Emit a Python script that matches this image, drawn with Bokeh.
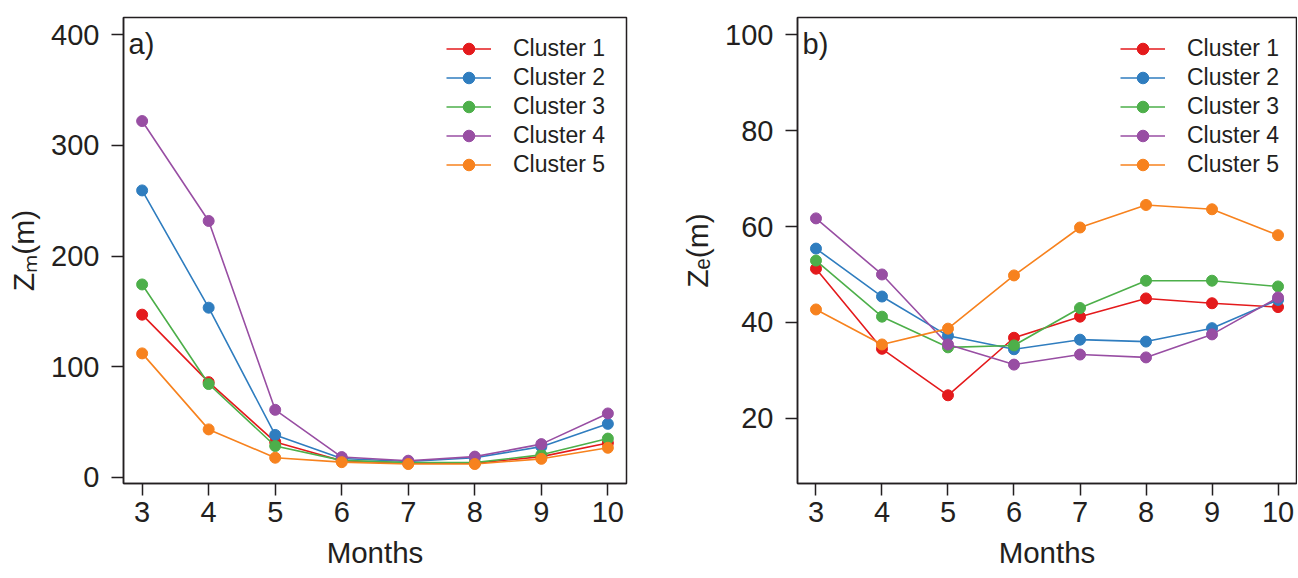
from bokeh.plotting import figure
from bokeh.models import Legend, Label, FixedTicker, Range1d
from bokeh.layouts import row
from bokeh.embed import file_html
from bokeh.resources import INLINE

# ---------------- data ----------------
months = [3, 4, 5, 6, 7, 8, 9, 10]
cluster_names = ["Cluster 1", "Cluster 2", "Cluster 3", "Cluster 4", "Cluster 5"]
cluster_colors = ["#E41A1C", "#2F7DBF", "#4DAF4A", "#984EA3", "#F7821E"]

# a) mixed layer depth Zm (m)
zm_c1 = [147, 86, 32, 15, 12.7, 12.7, 18.7, 31]
zm_c2 = [259.3, 153.3, 38.3, 17, 14.3, 17.7, 27.7, 48.3]
zm_c3 = [174.3, 84.3, 28.3, 15.3, 13.3, 13.3, 20.3, 35]
zm_c4 = [322, 231.7, 61, 18.3, 15, 18.7, 30, 57.7]
zm_c5 = [112, 43.3, 17.7, 13.7, 12, 12, 16.7, 26.7]

# b) euphotic depth Ze (m)
ze_c1 = [51.2, 34.5, 24.8, 36.8, 41.2, 45.0, 44.0, 43.2]
ze_c2 = [55.4, 45.4, 37.2, 34.4, 36.4, 36.0, 38.8, 44.7]
ze_c3 = [52.9, 41.2, 34.8, 35.2, 43.0, 48.7, 48.7, 47.5]
ze_c4 = [61.7, 50.0, 35.4, 31.2, 33.3, 32.7, 37.5, 45.2]
ze_c5 = [42.7, 35.4, 38.7, 49.8, 59.8, 64.5, 63.6, 58.2]

zm_ticks = [0, 100, 200, 300, 400]
ze_ticks = [20, 40, 60, 80, 100]
x_label = "Months"
zm_label = "Z\u2098(m)"
ze_label = "Z\u2091(m)"

FONT = "Liberation Sans"
INK = "#231F20"
H = 577


def panel(series, yticks, ylim, ylabel, tag, width, ml, mr):
    ylo, yhi = ylim
    pad = (yhi - ylo) * 0.04
    p = figure(width=width, height=H,
               x_range=Range1d(2.72, 10.28), y_range=Range1d(ylo - pad, yhi + pad),
               min_border_left=ml, min_border_right=mr, min_border_top=17,
               min_border_bottom=H - 483, output_backend="svg",
               toolbar_location=None, title=None)
    p.xgrid.visible = False
    p.ygrid.visible = False
    p.background_fill_color = "white"
    p.border_fill_color = "white"
    p.outline_line_color = INK
    p.outline_line_width = 1.5
    p.outline_line_alpha = 1.0
    for ax in p.axis:
        ax.axis_line_color = INK
        ax.axis_line_width = 1.5
        ax.major_tick_line_color = INK
        ax.major_tick_line_width = 1.5
        ax.major_tick_out = 12
        ax.major_tick_in = 0
        ax.minor_tick_line_color = None
        ax.major_label_text_font = FONT
        ax.major_label_text_font_size = "29px"
        ax.major_label_text_color = INK
        ax.axis_label_text_font = FONT
        ax.axis_label_text_font_style = "normal"
        ax.axis_label_text_color = INK
    p.xaxis.ticker = FixedTicker(ticks=months)
    p.yaxis.ticker = FixedTicker(ticks=yticks)
    p.xaxis.major_label_standoff = 6
    p.yaxis.major_label_standoff = 12
    p.xaxis.axis_label = x_label
    p.xaxis.axis_label_text_font_size = "29.5px"
    p.xaxis.axis_label_standoff = 11
    p.yaxis.axis_label = ylabel
    p.yaxis.axis_label_text_font_size = "30px"
    p.yaxis.axis_label_standoff = 8

    items = []
    for name, col, vals in zip(cluster_names, cluster_colors, series):
        rl = p.line(months, vals, line_color=col, line_width=1.6)
        rs = p.scatter(months, vals, marker="circle", size=11,
                       fill_color=col, line_color=col)
        items.append((name, [rl, rs]))

    leg = Legend(items=items, location=(323, 304.5), glyph_width=45, glyph_height=29,
                 label_height=29, spacing=0, padding=0, margin=0, label_standoff=22,
                 label_text_font=FONT, label_text_font_size="23px",
                 label_text_color=INK, border_line_color=None,
                 background_fill_alpha=0)
    p.add_layout(leg)

    # panel tag
    p.add_layout(Label(x=5, y=439.5, x_units="screen", y_units="screen",
                       text=tag, text_align="left", text_baseline="alphabetic",
                       text_font=FONT, text_font_size="29px", text_color=INK))
    return p


p1 = panel([zm_c1, zm_c2, zm_c3, zm_c4, zm_c5], zm_ticks, (10, 400), zm_label, "a)",
           650, 123, 24)
p2 = panel([ze_c1, ze_c2, ze_c3, ze_c4, ze_c5], ze_ticks, (10, 100), ze_label, "b)",
           647, 147, 1)

layout = row(p1, p2)
open("out.html", "w").write(file_html(layout, INLINE))
